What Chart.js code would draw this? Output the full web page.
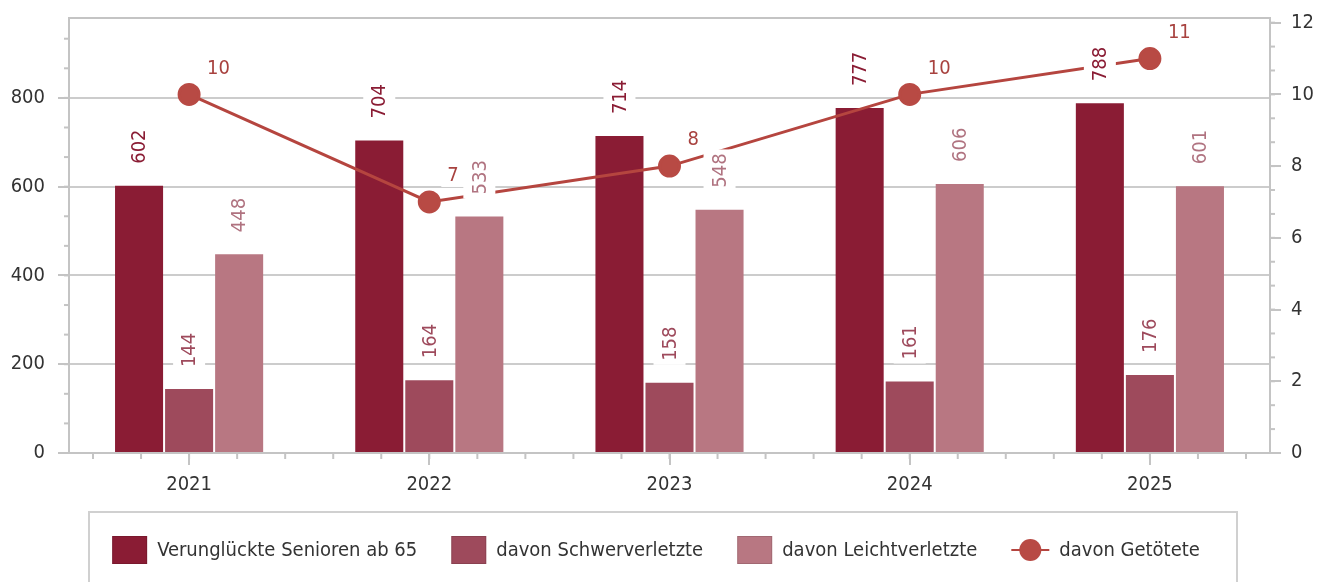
<!DOCTYPE html>
<html>
<head>
<meta charset="utf-8">
<script src="https://cdn.jsdelivr.net/npm/chart.js@4.4.0/dist/chart.umd.min.js"></script>
<style>
html, body { margin: 0; padding: 0; background: #fff; }
#wrap { width: 1328px; height: 582px; position: relative; }
</style>
</head>
<body>
<div id="wrap"><canvas id="myChart"></canvas></div>
<script>
// Data
var years = ['2021', '2022', '2023', '2024', '2025'];
var verunglueckte = [602, 704, 714, 777, 788];
var schwerverletzte = [144, 164, 158, 161, 176];
var leichtverletzte = [448, 533, 548, 606, 601];
var getoetete = [10, 7, 8, 10, 11];
var leftTicks = [0, 200, 400, 600, 800];
var rightTicks = [0, 2, 4, 6, 8, 10, 12];

var FONT = '"DejaVu Sans Condensed", "DejaVu Sans", sans-serif';
var FONT_SIZE = 20;
var AXIS_GRAY = '#c4c4c4';

// Little helper to draw short tick marks
function tick(ctx, x1, y1, x2, y2) {
    ctx.beginPath();
    ctx.moveTo(x1, y1);
    ctx.lineTo(x2, y2);
    ctx.stroke();
}

// Frame on top of the plot and minor ticks on all three axes
var framePlugin = {
    id: 'frame',
    beforeDatasetsDraw: function(chart) {
        var ctx = chart.ctx;
        var a = chart.chartArea;
        ctx.save();
        ctx.strokeStyle = AXIS_GRAY;
        ctx.lineWidth = 2;
        tick(ctx, a.left, a.top, a.right, a.top);

        var y = chart.scales.y, y1 = chart.scales.y1, x = chart.scales.x;
        var v, p;
        for (v = 200 / 3; v < y.max; v += 200 / 3) {
            p = y.getPixelForValue(v);
            tick(ctx, a.left - 5, p, a.left, p);
        }
        for (v = 2 / 3; v < y1.max; v += 2 / 3) {
            p = y1.getPixelForValue(v);
            tick(ctx, a.right, p, a.right + 5, p);
        }
        for (v = -0.4; v < years.length - 0.5; v += 0.2) {
            p = x.getPixelForValue(v);
            if (p > a.left + 2 && p < a.right - 2) {
                tick(ctx, p, a.bottom, p, a.bottom + 6);
            }
        }
        ctx.restore();
    }
};

// Value labels with white background
var labelPlugin = {
    id: 'valueLabels',
    afterDatasetsDraw: function(chart) {
        var ctx = chart.ctx;
        ctx.save();
        ctx.font = FONT_SIZE + 'px ' + FONT;
        ctx.textAlign = 'left';
        ctx.textBaseline = 'middle';
        chart.data.datasets.forEach(function(ds, i) {
            var meta = chart.getDatasetMeta(i);
            meta.data.forEach(function(el, j) {
                var text = String(ds.data[j]);
                var w = ctx.measureText(text).width;
                if (ds.type === 'line') {
                    var lx = el.x + 18, ly = el.y - 27;
                    ctx.fillStyle = '#fff';
                    ctx.fillRect(lx - 6, ly - 12, w + 12, 24);
                    ctx.fillStyle = ds.labelColor;
                    ctx.fillText(text, lx, ly + 1);
                } else {
                    ctx.save();
                    ctx.translate(el.x, el.y - 22);
                    ctx.rotate(-Math.PI / 2);
                    ctx.fillStyle = '#fff';
                    ctx.fillRect(-4, -16, w + 8, 32);
                    ctx.fillStyle = ds.labelColor;
                    ctx.fillText(text, 0, 1);
                    ctx.restore();
                }
            });
        });
        ctx.restore();
    }
};

// Legend inside a grey box below the chart
var legendPlugin = {
    id: 'boxLegend',
    afterDraw: function(chart) {
        var ctx = chart.ctx;
        ctx.save();
        ctx.strokeStyle = '#d0d0d0';
        ctx.lineWidth = 2;
        ctx.strokeRect(89, 512, 1148, 100);

        ctx.font = FONT_SIZE + 'px ' + FONT;
        ctx.textBaseline = 'middle';
        ctx.textAlign = 'left';
        var cy = 550;
        var items = chart.data.datasets.map(function(ds) {
            var sym = ds.type === 'line' ? 38 : 35;
            return { ds: ds, sym: sym, tw: ctx.measureText(ds.label).width };
        });
        var total = 0;
        items.forEach(function(it, k) {
            total += it.sym + 10 + it.tw + (k < items.length - 1 ? 34 : 0);
        });
        var x = 656 - total / 2;
        items.forEach(function(it) {
            var ds = it.ds;
            if (ds.type === 'line') {
                ctx.strokeStyle = ds.borderColor;
                ctx.lineWidth = 2;
                tick(ctx, x, cy, x + it.sym, cy);
                ctx.fillStyle = ds.pointBackgroundColor;
                ctx.beginPath();
                ctx.arc(x + it.sym / 2, cy, 11, 0, Math.PI * 2);
                ctx.fill();
            } else {
                ctx.fillStyle = ds.backgroundColor;
                ctx.fillRect(x, cy - 14, it.sym, 28);
                ctx.strokeStyle = 'rgba(0,0,0,0.12)';
                ctx.lineWidth = 1;
                ctx.strokeRect(x + 0.5, cy - 13.5, it.sym - 1, 27);
            }
            ctx.fillStyle = '#333';
            ctx.fillText(ds.label, x + it.sym + 10, cy + 1);
            x += it.sym + 10 + it.tw + 34;
        });
        ctx.restore();
    }
};

function setTicks(values) {
    return function(scale) {
        scale.ticks = values.map(function(v) { return { value: v }; });
    };
}

// fixed axis width, no extra room for the top label
function fitY(width) {
    return function(scale) {
        scale.width = width;
        scale.paddingTop = 0;
        scale.paddingBottom = 0;
    };
}

var ctx = document.getElementById('myChart').getContext('2d');
var myChart = new Chart(ctx, {
    data: {
        labels: years,
        datasets: [{
            type: 'bar',
            label: 'Verunglückte Senioren ab 65',
            data: verunglueckte,
            backgroundColor: '#8a1c34',
            labelColor: '#8a1c34',
            yAxisID: 'y',
            order: 1
        }, {
            type: 'bar',
            label: 'davon Schwerverletzte',
            data: schwerverletzte,
            backgroundColor: '#9e4a5c',
            labelColor: '#9e4a5c',
            yAxisID: 'y',
            order: 1
        }, {
            type: 'bar',
            label: 'davon Leichtverletzte',
            data: leichtverletzte,
            backgroundColor: '#b87782',
            labelColor: '#b07380',
            yAxisID: 'y',
            order: 1
        }, {
            type: 'line',
            label: 'davon Getötete',
            data: getoetete,
            borderColor: '#b5453f',
            borderWidth: 3,
            pointBackgroundColor: '#b84a44',
            pointBorderColor: '#b84a44',
            pointRadius: 10,
            labelColor: '#a8423f',
            yAxisID: 'y1',
            order: 0
        }]
    },
    options: {
        responsive: true,
        maintainAspectRatio: false,
        animation: false,
        layout: { padding: { top: 18, bottom: 79, left: 0, right: 0 } },
        datasets: {
            bar: { categoryPercentage: 0.625, barPercentage: 0.96, borderWidth: 0 }
        },
        plugins: {
            legend: { display: false },
            tooltip: { enabled: false }
        },
        scales: {
            x: {
                offset: true,
                grid: {
                    offset: false,
                    drawOnChartArea: false,
                    tickLength: 12,
                    tickColor: AXIS_GRAY,
                    lineWidth: 2
                },
                border: { color: AXIS_GRAY, width: 2 },
                ticks: {
                    color: '#333',
                    font: { family: FONT, size: FONT_SIZE },
                    padding: 8
                },
                afterFit: function(scale) { scale.height = 50; }
            },
            y: {
                position: 'left',
                min: 0,
                max: 980,
                afterBuildTicks: setTicks(leftTicks),
                grid: {
                    color: '#cccccc',
                    lineWidth: 2,
                    tickLength: 11,
                    tickColor: AXIS_GRAY
                },
                border: { color: AXIS_GRAY, width: 2 },
                ticks: {
                    color: '#333',
                    font: { family: FONT, size: FONT_SIZE },
                    padding: 13
                },
                afterFit: fitY(69)
            },
            y1: {
                position: 'right',
                min: 0,
                max: 12.13,
                afterBuildTicks: setTicks(rightTicks),
                grid: {
                    drawOnChartArea: false,
                    tickLength: 11,
                    tickColor: AXIS_GRAY,
                    lineWidth: 2
                },
                border: { color: AXIS_GRAY, width: 2 },
                ticks: {
                    color: '#333',
                    font: { family: FONT, size: FONT_SIZE },
                    padding: 10
                },
                afterFit: fitY(58)
            }
        }
    },
    plugins: [framePlugin, labelPlugin, legendPlugin]
});
</script>
</body>
</html>
